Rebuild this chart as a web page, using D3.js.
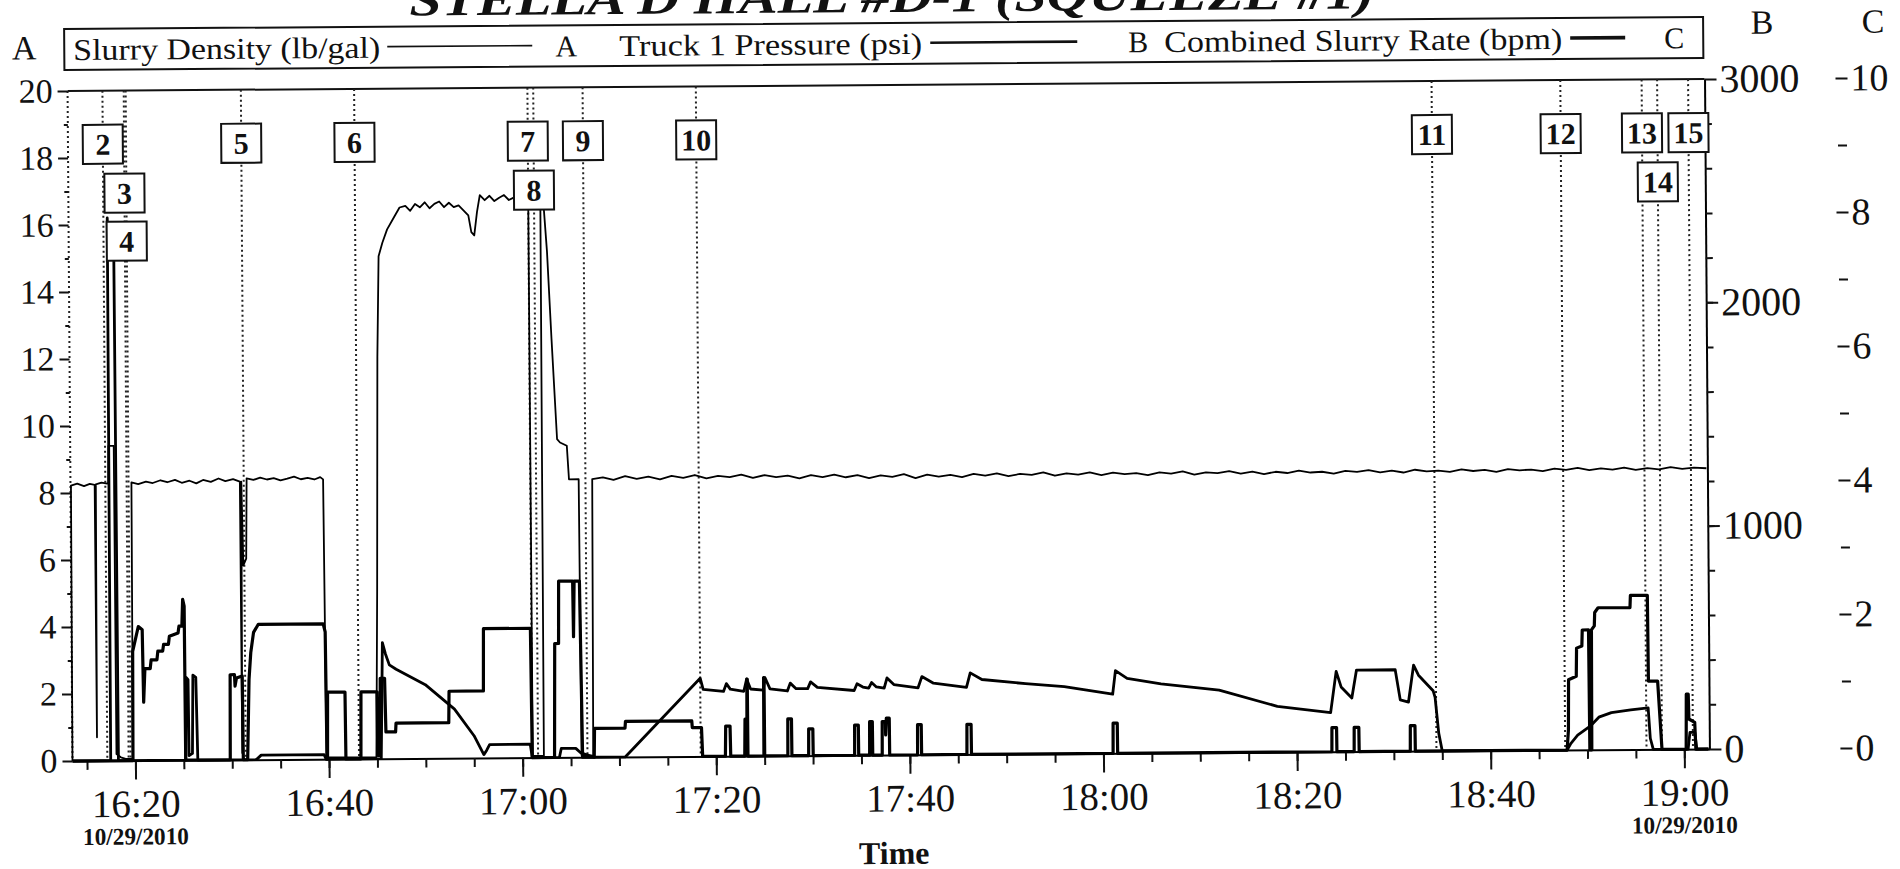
<!DOCTYPE html>
<html>
<head>
<meta charset="utf-8">
<script src="https://cdn.jsdelivr.net/npm/d3@7"></script>
<style>
  body { margin: 0; background: #fff; }
  svg { display: block; }
  text { font-family: "Liberation Serif", "Times New Roman", serif; fill: #111; }
</style>
</head>
<body>
<div id="chart"></div>
<script>
// all times are minutes after 16:00 on 10/29/2010

// Slurry Density (lb/gal) - axis A
var density = [
  [13.5,0],[13.55,8.22],[14.2,8.28],[14.9,8.2],[15.5,8.27],[16.0,8.24],[16.05,0.7],[16.12,8.25],[16.7,8.3],[17.3,8.27],
  [17.4,8.3],[17.45,9.4],[18.0,9.4],[18.05,0.2],[18.5,0.1],[19.0,0.05],[19.75,0.05],[19.8,8.3],
  [20.5,8.25],[21.3,8.32],[22,8.28],[22.8,8.36],[23.5,8.3],[24.3,8.37],[25,8.28],[25.8,8.34],[26.5,8.26],[27.2,8.36],
  [28,8.3],[28.8,8.4],[29.5,8.32],[30.3,8.38],[31.0,8.3],[31.05,0.2],[31.15,8.3],[31.3,5.8],[31.6,6.0],[31.7,8.4],
  [32.4,8.35],[33.1,8.42],[33.8,8.36],[34.5,8.4],[35.2,8.33],[35.9,8.38],[36.6,8.44],[37.3,8.36],[38,8.4],[38.7,8.35],
  [39.3,8.42],[39.6,8.35],[39.75,0.05],[44.9,0.05],
  [45.1,5],[45.3,12],[45.5,15.0],[45.9,15.4],[46.4,15.8],[47,16.1],[47.7,16.45],[48.3,16.5],[48.8,16.35],[49.3,16.55],
  [49.8,16.45],[50.3,16.6],[50.8,16.42],[51.3,16.55],[51.8,16.62],[52.3,16.45],[52.8,16.58],[53.3,16.45],[53.8,16.5],
  [54.3,16.35],[54.8,16.2],[55.1,15.7],[55.4,15.6],[55.7,16.3],[56,16.8],[56.5,16.65],[57,16.78],[57.5,16.62],[58,16.72],
  [58.5,16.8],[59,16.65],[59.5,16.72],[60,16.68],[60.5,16.62],[61.0,16.6],[61.05,0.05],[62.2,0.05],[62.25,16.5],
  [62.6,16.4],[62.9,15.1],[63.3,12.5],[63.8,9.5],[64.1,9.4],[64.8,9.3],[65.0,8.3],[66.0,8.3],[66.1,0.05],[67.3,0.05],
  [67.4,8.3],[68.5,8.35],[69.6,8.27],[70.8,8.38],[72,8.3],[73.2,8.36],[74.4,8.28],[75.6,8.38],[76.8,8.32],[78,8.4],
  [79.2,8.3],[80.4,8.37],[81.6,8.33],[82.8,8.4],[84,8.3],[85.2,8.38],[86.4,8.32],[87.6,8.36],[88.8,8.28],[90,8.37],
  [91.2,8.31],[92.4,8.38],[93.6,8.3],[94.8,8.36],[96,8.27],[97.2,8.35],[98.4,8.3],[99.6,8.38],[100.8,8.26],[102,8.36],
  [103.2,8.3],[104.4,8.35],[105.6,8.28],[106.8,8.37],[108,8.32],[109.2,8.38],[110.4,8.3],[111.6,8.36],[112.8,8.33],
  [114,8.4],[115.2,8.3],[116.4,8.37],[117.6,8.33],[118.8,8.39],[120,8.31],[121.2,8.38],[122.4,8.33],[123.6,8.36],
  [124.8,8.3],[126,8.38],[127.2,8.34],[128.4,8.4],[129.6,8.3],[130.8,8.37],[132,8.34],[133.2,8.4],[134.4,8.32],
  [135.6,8.38],[136.8,8.3],[138,8.37],[139.2,8.33],[140.4,8.4],[141.6,8.34],[142.8,8.36],[144,8.3],[145.2,8.38],
  [146.4,8.35],[147.6,8.4],[148.8,8.33],[150,8.38],[151.2,8.32],[152.4,8.4],[153.6,8.35],[154.8,8.37],[156,8.33],
  [157.2,8.4],[158.4,8.35],[159.6,8.38],[160.8,8.32],[162,8.4],[163.2,8.36],[164.4,8.38],[165.6,8.33],[166.8,8.4],
  [168,8.36],[169.2,8.42],[170.4,8.35],[171.6,8.4],[172.8,8.36],[174,8.42],[175.2,8.35],[176.4,8.4],[177.6,8.36],
  [178.8,8.42],[180,8.37],[181.2,8.4],[182.5,8.38]
];

// Truck 1 Pressure (psi) - axis B
var pressure = [
  [13.5,0],[17.45,0],[17.5,2430],[17.6,2260],[18.15,2250],[18.25,0],
  [25.2,0],[25.3,370],[25.5,360],[25.55,20],[25.9,30],[26.0,380],[26.3,370],[26.45,0],
  [32.5,0],[33,20],[39.5,20],[39.7,0],
  [45.4,0],[45.6,520],[45.9,470],[46.3,420],[47,400],[50,330],[53,220],[55,100],[56,15],[56.3,35],[56.6,60],[60.8,60],[61,0],
  [63.8,0],[64,40],[65.5,40],[66,20],[67.4,0],
  [70.6,0],[78.4,350],[78.7,300],[80.8,290],[81.1,325],[81.5,300],[82.9,290],[83.2,345],[83.6,300],[84.9,295],[85.1,350],
  [85.6,300],[87.4,290],[87.7,325],[88.3,300],[89.5,300],[89.8,330],[90.5,305],[94.3,290],[94.6,320],[95.2,305],[95.8,300],
  [96.1,325],[96.6,305],[97.4,300],[97.7,345],[98.4,315],[100.9,300],[101.3,350],[102.5,320],[105.9,300],[106.3,365],
  [107.5,335],[112,315],[116,300],[121,265],[121.3,370],[122.5,335],[126,310],[132,280],[138,205],[143.5,175],
  [144.1,360],[144.6,290],[145.7,240],[146.2,365],[150.2,365],[150.7,230],[151.55,220],[152.1,385],[152.6,340],
  [154.1,270],[154.3,240],[154.65,80],[155,0],
  [167.9,0],[168.3,30],[169,66],[170.3,106],[171.2,146],[172.5,166],[174.5,178],[176.3,186],[176.5,50],[176.8,0],
  [180.4,0],[180.6,75],[181.1,75],[181.3,0],[182.5,0]
];

// Combined Slurry Rate (bpm) - axis C
var rate = [
  [13.5,0],[19.75,0],[19.8,1.63],[20.4,2.0],[20.8,1.95],[20.9,0.87],[21.05,1.37],[21.6,1.37],[21.7,1.5],[22.3,1.5],
  [22.4,1.63],[22.9,1.63],[23.0,1.73],[23.5,1.73],[23.6,1.85],[24.5,1.9],[24.6,2.0],[24.9,2.0],[25.0,2.4],[25.15,2.3],[25.2,0],
  [29.8,0],[29.85,1.27],[30.3,1.27],[30.35,1.1],[30.5,1.22],[31.1,1.25],[31.15,0],[31.6,0],[31.8,1.2],[32,1.6],[32.3,1.9],
  [32.8,2.02],[39.5,2.02],[39.7,1.9],[39.8,0],[39.85,0],[39.9,1.0],[41.7,1.0],[41.75,0],[43.3,0],[43.35,1.0],[45.0,1.0],
  [45.05,0.05],[45.3,0.05],[45.35,1.2],[45.8,1.2],[45.9,0.4],[46.9,0.4],[46.95,0.53],[52.4,0.53],[52.45,1.0],[56.0,1.0],
  [56.05,1.93],[60.9,1.93],[61.0,0],
  [63.3,0],[63.4,1.7],[63.8,1.7],[63.85,2.63],[65.3,2.63],[65.35,1.8],[65.45,2.63],[66.0,2.63],[66.2,0],
  [67.4,0],[67.45,0.43],[70.6,0.43],[70.65,0.53],[77.5,0.53],[77.55,0.43],[78.5,0.43],[78.6,0],
  [80.95,0],[81.0,0.45],[81.45,0.45],[81.5,0],
  [82.95,0],[83.0,0.55],[83.2,0.55],[83.22,1.15],[83.26,1.15],[83.28,0],
  [84.93,0],[84.95,1.17],[84.99,1.17],[85.01,0],
  [87.4,0],[87.42,0.55],[87.8,0.55],[87.82,0],
  [89.55,0],[89.57,0.4],[90.0,0.4],[90.02,0],
  [94.3,0],[94.32,0.45],[94.7,0.45],[94.72,0],
  [95.85,0],[95.87,0.5],[96.15,0.5],[96.17,0],
  [97.15,0],[97.17,0.5],[97.5,0.5],[97.52,0.3],[97.6,0.55],[97.9,0.55],[97.92,0],
  [100.8,0],[100.82,0.45],[101.2,0.45],[101.22,0],
  [105.9,0],[105.92,0.45],[106.35,0.45],[106.37,0],
  [121.0,0],[121.02,0.45],[121.45,0.45],[121.47,0],
  [143.6,0],[143.62,0.36],[144.1,0.36],[144.12,0],
  [145.9,0],[145.92,0.36],[146.4,0.36],[146.42,0],
  [151.7,0],[151.72,0.38],[152.2,0.38],[152.22,0],
  [167.9,0],[168.05,0.3],[168.1,1.05],[168.9,1.1],[168.95,1.52],[169.5,1.55],[169.55,1.79],[170.2,1.79],[170.25,0],
  [170.45,0],[170.5,1.79],[170.8,1.85],[170.85,2.05],[171.2,2.12],[174.5,2.12],[174.55,2.3],[176.3,2.3],[176.35,1.02],
  [177.3,1.02],[177.7,0],[180.2,0],[180.25,0.82],[180.45,0.82],[180.5,0.45],[181.1,0.4],[181.2,0],[182.5,0]
];

// numbered event markers
var eventNums  = [2, 3, 4, 5, 6, 7, 8, 9, 10, 11, 12, 13, 14, 15];
var eventTimes = [17.1, 19.3, 19.5, 31.4, 43.1, 61.0, 61.6, 66.7, 78.4, 154.4, 167.7, 176.1, 177.7, 180.9];
var eventRows  = [0, 1, 2, 0, 0, 0, 1, 0, 0, 0, 0, 0, 1, 0];

var densityTicks = [0, 2, 4, 6, 8, 10, 12, 14, 16, 18, 20];
var pressureTicks = [0, 1000, 2000, 3000];
var rateTicks = [0, 2, 4, 6, 8, 10];
var legendNames = ["Slurry Density (lb/gal)", "Truck 1 Pressure (psi)", "Combined Slurry Rate (bpm)"];
var legendAxes = ["A", "B", "C"];

var start = new Date(2010, 9, 29, 16, 0);
function toDate(m) { return new Date(start.getTime() + m * 60000); }

var svg = d3.select("#chart").append("svg")
  .attr("width", 1900)
  .attr("height", 869);

// the scanned chart sits slightly tilted
var g = svg.append("g").attr("transform", "rotate(-0.42, 888, 420)");

var plotL = 70, plotR = 1707, plotT = 85, plotB = 755;

var x = d3.scaleTime().domain([toDate(13.5), toDate(182.6)]).range([plotL, plotR]);
var yA = d3.scaleLinear().domain([0, 20]).range([plotB, plotT]);
var yB = d3.scaleLinear().domain([0, 3000]).range([plotB, plotT]);
var yC = d3.scaleLinear().domain([0, 10]).range([plotB, plotT]);

// title (cut off at the top of the page)
g.append("text")
  .attr("x", 895).attr("y", 12)
  .attr("text-anchor", "middle")
  .attr("textLength", 965).attr("lengthAdjust", "spacingAndGlyphs")
  .style("font-size", "46px").style("font-weight", "bold").style("font-style", "italic")
  .text("STELLA D HALL #D-1 (SQUEEZE #1)");

// legend box
g.append("rect")
  .attr("x", 67).attr("y", 23).attr("width", 1639).attr("height", 41)
  .attr("fill", "none").attr("stroke", "#111").attr("stroke-width", 2);

var legText = [[76, 307], [622, 303], [1167, 398]];
var legLine = [[390, 535, 1.6], [933, 1080, 2.6], [1573, 1628, 3.6]];
var legLetter = [569, 1141, 1677];
legendNames.forEach(function (name, i) {
  g.append("text")
    .attr("x", legText[i][0]).attr("y", 54)
    .attr("textLength", legText[i][1]).attr("lengthAdjust", "spacingAndGlyphs")
    .style("font-size", "30px")
    .text(name);
  g.append("line")
    .attr("x1", legLine[i][0]).attr("x2", legLine[i][1])
    .attr("y1", 43).attr("y2", 43)
    .attr("stroke", "#111").attr("stroke-width", legLine[i][2]);
  g.append("text")
    .attr("x", legLetter[i]).attr("y", 54)
    .attr("text-anchor", "middle")
    .style("font-size", "30px")
    .text(legendAxes[i]);
});

// axis letters
g.append("text").attr("x", 27).attr("y", 53).attr("text-anchor", "middle").style("font-size", "34px").text(legendAxes[0]);
g.append("text").attr("x", 1765).attr("y", 40).attr("text-anchor", "middle").style("font-size", "34px").text(legendAxes[1]);
g.append("text").attr("x", 1876).attr("y", 40).attr("text-anchor", "middle").style("font-size", "34px").text(legendAxes[2]);

// frame top
g.append("line")
  .attr("x1", plotL).attr("x2", plotR).attr("y1", plotT).attr("y2", plotT)
  .attr("stroke", "#111").attr("stroke-width", 2);

// event dotted lines (first one on the left edge)
var evLines = [13.5].concat(eventTimes);
g.selectAll(".evline").data(evLines).enter().append("line")
  .attr("class", "evline")
  .attr("x1", function (d) { return x(toDate(d)); })
  .attr("x2", function (d) { return x(toDate(d)); })
  .attr("y1", plotT).attr("y2", plotB)
  .attr("stroke", "#222").attr("stroke-width", 2)
  .attr("stroke-dasharray", "2,3");

// axes
var leftAxis = g.append("g").attr("transform", "translate(" + plotL + ",0)")
  .call(d3.axisLeft(yA).tickValues(densityTicks).tickSize(10).tickPadding(5));
leftAxis.select(".domain").remove();
leftAxis.selectAll("text").style("font-size", "34px").style("font-family", "Liberation Serif");

g.append("g").attr("transform", "translate(" + plotL + ",0)")
  .call(d3.axisLeft(yA).tickValues(d3.range(1, 20, 2)).tickSize(4).tickFormat(""))
  .select(".domain").remove();

var bottomAxis = g.append("g").attr("transform", "translate(0," + plotB + ")")
  .call(d3.axisBottom(x).ticks(d3.timeMinute.every(20)).tickFormat(d3.timeFormat("%H:%M"))
    .tickSize(19).tickSizeOuter(0));
bottomAxis.select(".domain").attr("stroke-width", 2);
bottomAxis.selectAll("text").attr("y", 30).attr("dy", "0.68em")
  .style("font-size", "39px").style("font-family", "Liberation Serif");

g.append("g").attr("transform", "translate(0," + plotB + ")")
  .call(d3.axisBottom(x).ticks(d3.timeMinute.every(5)).tickSize(9).tickFormat(""))
  .select(".domain").remove();

var bAxis = g.append("g").attr("transform", "translate(" + plotR + ",0)")
  .call(d3.axisRight(yB).tickValues(pressureTicks).tickFormat(d3.format("d"))
    .tickSize(12).tickSizeOuter(0).tickPadding(3));
bAxis.select(".domain").attr("stroke-width", 2);
bAxis.selectAll("text").style("font-size", "40px").style("font-family", "Liberation Serif");

g.append("g").attr("transform", "translate(" + plotR + ",0)")
  .call(d3.axisRight(yB).tickValues(d3.range(200, 3000, 200)).tickSize(7).tickFormat(""))
  .select(".domain").remove();

var cAxis = g.append("g").attr("transform", "translate(1838,0)")
  .call(d3.axisRight(yC).tickValues(rateTicks).tickSize(12).tickPadding(3));
cAxis.select(".domain").remove();
cAxis.selectAll("text").style("font-size", "38px").style("font-family", "Liberation Serif");

g.append("g").attr("transform", "translate(1840,0)")
  .call(d3.axisRight(yC).tickValues(d3.range(1, 10, 2)).tickSize(9).tickFormat(""))
  .select(".domain").remove();

g.selectAll(".tick line").attr("stroke", "#111").attr("stroke-width", 2);

// date stamps under first and last labelled ticks
var dateFmt = d3.timeFormat("%m/%d/%Y");
[toDate(20), toDate(180)].forEach(function (d) {
  g.append("text")
    .attr("x", x(d)).attr("y", 839)
    .attr("text-anchor", "middle")
    .attr("textLength", 106).attr("lengthAdjust", "spacingAndGlyphs")
    .style("font-size", "24px").style("font-weight", "bold")
    .text(dateFmt(d));
});

g.append("text")
  .attr("x", 891).attr("y", 864)
  .attr("text-anchor", "middle")
  .style("font-size", "32px").style("font-weight", "bold")
  .text("Time");

// series
function drawSeries(data, yScale, width) {
  var line = d3.line()
    .x(function (d) { return x(toDate(d[0])); })
    .y(function (d) { return yScale(d[1]); });
  g.append("path")
    .datum(data)
    .attr("d", line)
    .attr("fill", "none")
    .attr("stroke", "#000")
    .attr("stroke-width", width)
    .attr("stroke-linejoin", "round");
}
drawSeries(density, yA, 1.8);
drawSeries(pressure, yB, 2.8);
drawSeries(rate, yC, 3.2);

// event boxes
var boxTop = [119, 168, 216];
var boxes = g.selectAll(".evbox").data(eventNums).enter().append("g").attr("class", "evbox");
boxes.append("rect")
  .attr("x", function (d, i) { return x(toDate(eventTimes[i])) - 20; })
  .attr("y", function (d, i) { return boxTop[eventRows[i]]; })
  .attr("width", 40).attr("height", 39)
  .attr("fill", "#fff").attr("stroke", "#111").attr("stroke-width", 2);
boxes.append("text")
  .attr("x", function (d, i) { return x(toDate(eventTimes[i])); })
  .attr("y", function (d, i) { return boxTop[eventRows[i]] + 30; })
  .attr("text-anchor", "middle")
  .style("font-size", "30px").style("font-weight", "bold")
  .text(function (d) { return d; });
</script>
</body>
</html>
